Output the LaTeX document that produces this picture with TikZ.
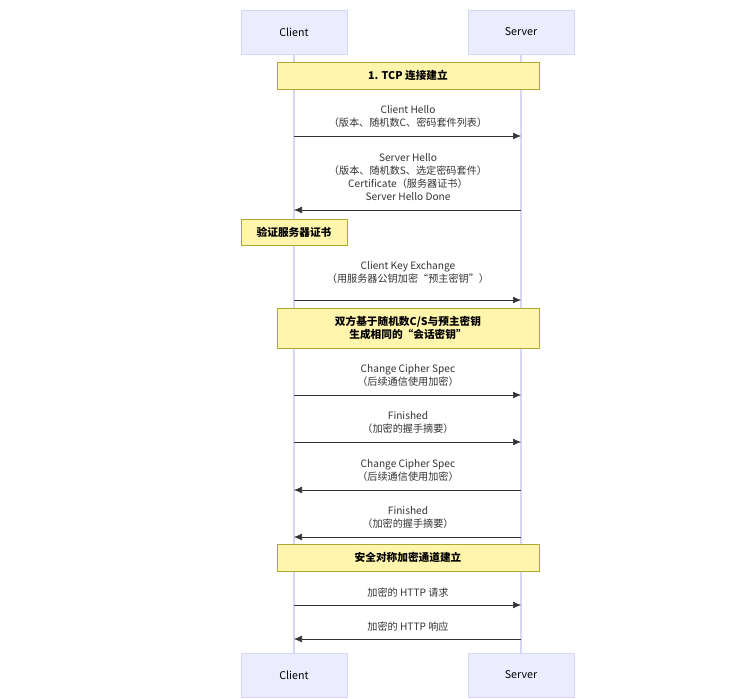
\documentclass[tikz,border=0pt]{standalone}
\usepackage{fontspec}
\setmainfont{Noto Sans CJK SC}
\usetikzlibrary{arrows.meta,positioning}
\definecolor{actorfill}{HTML}{ECECFF}
\definecolor{actorline}{HTML}{D6D6F5}
\definecolor{notefill}{HTML}{FFF5AD}
\definecolor{noteline}{HTML}{AAAA33}
\definecolor{msgline}{HTML}{333333}
\tikzset{
  actor/.style={draw=actorline, fill=actorfill, minimum width=106*0.75pt, minimum height=44*0.75pt, font=\fontsize{8}{10}\selectfont},
  note/.style={draw=noteline, fill=notefill, font=\fontsize{8}{10}\selectfont\bfseries, align=center},
  msg/.style={draw=msgline, -{Latex[length=6pt,width=5pt]}},
  lbl/.style={font=\fontsize{7.6}{9.8}\selectfont, align=center, text=msgline, inner sep=0pt},
}
\begin{document}
\begin{tikzpicture}[x=0.75pt,y=-0.75pt]
\useasboundingbox (0,0) rectangle (729,699);

% lifelines
\draw[actorline, line width=0.8pt] (294,54) -- (294,653);
\draw[actorline, line width=0.8pt] (521,54) -- (521,653);

% actors
\node[actor] (ctop) at (294,32) {Client};
\node[actor] (stop) at (521,32) {Server};
\node[actor] (cbot) at (294,675) {Client};
\node[actor] (sbot) at (521,675) {Server};

% notes
\node[note, minimum width=262*0.75pt, minimum height=27*0.75pt] (tcp) at (408,75.5) {1. TCP 连接建立};
\node[note, minimum width=106*0.75pt, minimum height=26*0.75pt] (verify) at (294,232) {验证服务器证书};
\node[note, minimum width=262*0.75pt, minimum height=40*0.75pt] (key) at (408,328) {双方基于随机数C/S与预主密钥\\生成相同的“会话密钥”};
\node[note, minimum width=262*0.75pt, minimum height=27*0.75pt] (secure) at (408,557.5) {安全对称加密通道建立};

% message end points
\foreach \n/\y in {1/136,2/210,3/300,4/395,5/442,6/490,7/537,8/605,9/639}{
  \coordinate (c\n) at (294,\y);
  \coordinate (s\n) at (521,\y);
}

% messages
\draw[msg] (c1) -- (s1);
\node[lbl] (l1) at (408,116) {Client Hello\\（版本、随机数C、密码套件列表）};
\draw[msg] (s2) -- (c2);
\node[lbl] (l2) at (408,177) {Server Hello\\（版本、随机数S、选定密码套件）\\Certificate（服务器证书）\\Server Hello Done};
\draw[msg] (c3) -- (s3);
\node[lbl] (l3) at (408,272.5) {Client Key Exchange\\（用服务器公钥加密“预主密钥”）};
\draw[msg] (c4) -- (s4);
\node[lbl] (l4) at (408,375.5) {Change Cipher Spec\\（后续通信使用加密）};
\draw[msg] (c5) -- (s5);
\node[lbl] (l5) at (408,422.5) {Finished\\（加密的握手摘要）};
\draw[msg] (s6) -- (c6);
\node[lbl] (l6) at (408,470.5) {Change Cipher Spec\\（后续通信使用加密）};
\draw[msg] (s7) -- (c7);
\node[lbl] (l7) at (408,517.5) {Finished\\（加密的握手摘要）};
\draw[msg] (c8) -- (s8);
\node[lbl] (l8) at (408,593) {加密的 HTTP 请求};
\draw[msg] (s9) -- (c9);
\node[lbl] (l9) at (408,627) {加密的 HTTP 响应};
\end{tikzpicture}
\end{document}
